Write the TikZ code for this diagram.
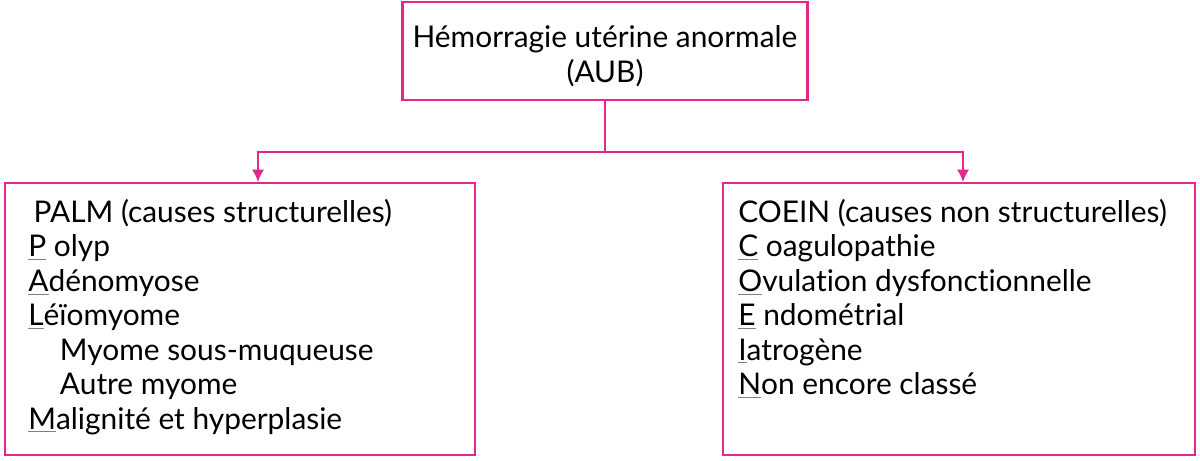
\documentclass[tikz,border=0pt]{standalone}
\usepackage{fontspec}
\setmainfont{Lato}[Ligatures={NoCommon,NoRare}]
\usetikzlibrary{positioning,arrows.meta}
\definecolor{aubpink}{rgb}{0.90,0.15,0.55}
\newcommand{\fl}[1]{{\color{gray}\underline{\textcolor{black}{#1}}}}
\tikzset{
  boxed/.style={draw=aubpink, line width=1.2pt, inner sep=0pt},
  listtxt/.style={anchor=north west, align=left, inner sep=0pt,
    font=\fontsize{17}{19.6}\selectfont},
  link/.style={draw=aubpink, line width=1.2pt, -{Latex[length=7pt,width=7pt]}}
}
\begin{document}
\begin{tikzpicture}[x=0.02cm,y=-0.02cm]
\useasboundingbox (0,0) rectangle (1200,460);
% boxes
\node[boxed, minimum width=8.1cm, minimum height=1.96cm] (aub) at (605,51) {};
\node[align=center, font=\fontsize{17}{19.6}\selectfont] (aubtxt) at (605,56)
  {Hémorragie utérine anormale\\(AUB)};
\node[boxed, minimum width=9.4cm, minimum height=5.44cm] (palm) at (240,319) {};
\node[boxed, minimum width=9.44cm, minimum height=5.44cm] (coein) at (959,319) {};
% texts
\node[listtxt] (palmtxt) at (28,199) {%
 \hspace*{3pt}PALM (causes structurelles)\\
 \fl{P} olyp\\
 \fl{A}dénomyose\\
 \fl{L}éïomyome\\
 \hspace*{18pt}Myome sous-muqueuse\\
 \hspace*{18pt}Autre myome\\
 \fl{M}alignité et hyperplasie};
\node[listtxt] (coeintxt) at (738,199) {%
 COEIN (causes non structurelles)\\
 \fl{C} oagulopathie\\
 \fl{O}vulation dysfonctionnelle\\
 \fl{E} ndométrial\\
 \fl{I}atrogène\\
 \fl{N}on encore classé};
% connectors
\coordinate (split) at (605,152);
\coordinate (lefttop) at (258,152);
\coordinate (righttop) at (963,152);
\draw[link] (aub.south) -- (split) -- (lefttop) -- (lefttop |- palm.north);
\draw[link] (split) -- (righttop) -- (righttop |- coein.north);
\end{tikzpicture}
\end{document}
